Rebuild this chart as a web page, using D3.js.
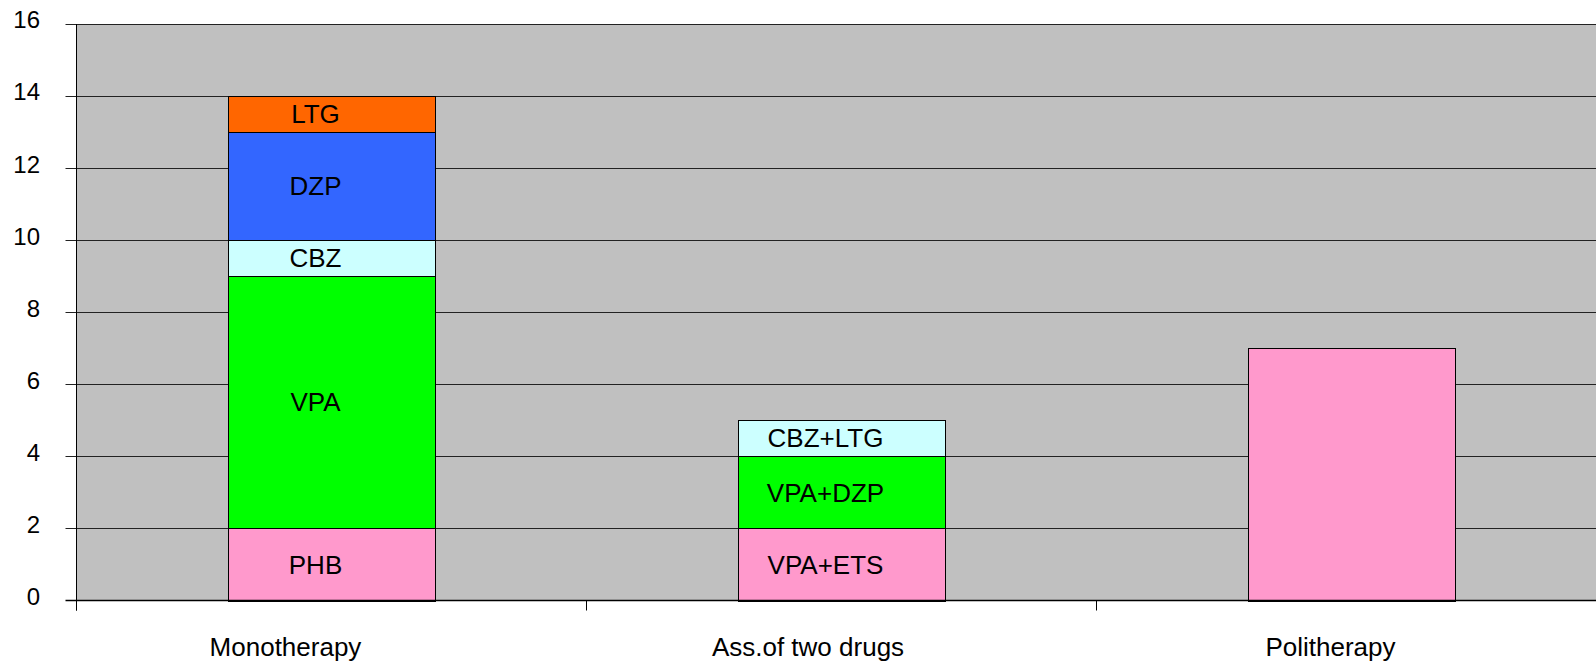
<!DOCTYPE html>
<html>
<head>
<meta charset="utf-8">
<script src="https://cdn.jsdelivr.net/npm/d3@7/dist/d3.min.js"></script>
<style>
  body { margin: 0; background: #fff; }
  svg { display: block; font-family: "Liberation Sans", Arial, sans-serif; }
</style>
</head>
<body>
<svg id="chart" width="1596" height="667"></svg>
<script>
// categories and stacked levels (bottom to top)
var categories = ["Monotherapy", "Ass.of two drugs", "Politherapy"];
var levelKeys = ["l1", "l2", "l3", "l4", "l5"];
var level1 = [2, 2, 7];
var level2 = [7, 2, 0];
var level3 = [1, 1, 0];
var level4 = [3, 0, 0];
var level5 = [1, 0, 0];
var labels1 = ["PHB", "VPA+ETS", ""];
var labels2 = ["VPA", "VPA+DZP", ""];
var labels3 = ["CBZ", "CBZ+LTG", ""];
var labels4 = ["DZP", "", ""];
var labels5 = ["LTG", "", ""];
var levelColors = ["#FF99CC", "#00FF00", "#CCFFFF", "#3366FF", "#FF6600"];
var yTicks = [0, 2, 4, 6, 8, 10, 12, 14, 16];

function drawChart() {
  var levels = [level1, level2, level3, level4, level5];
  var labels = [labels1, labels2, labels3, labels4, labels5];

  var rows = categories.map(function(c, i) {
    var r = {cat: c};
    levelKeys.forEach(function(k, j) { r[k] = levels[j][i]; });
    return r;
  });

  var svg = d3.select("#chart");
  var pLeft = 76.5, pTop = 24, pBottom = 600.5, pRight = 1606.5, W = 1596;

  var x = d3.scaleBand().domain(categories).range([pLeft, pRight])
    .paddingInner(0.594).paddingOuter(0.297);
  var y = d3.scaleLinear().domain([0, 16]).range([pBottom, pTop]);
  var step = x.step();
  var bw = x.bandwidth();

  // plot area
  svg.append("rect")
    .attr("x", pLeft).attr("y", pTop)
    .attr("width", W - pLeft).attr("height", pBottom - pTop)
    .attr("fill", "#C0C0C0");

  // gridlines
  svg.append("g").selectAll("line")
    .data(yTicks.filter(function(t){ return t > 0; }))
    .enter().append("line")
    .attr("x1", pLeft - 11).attr("x2", W)
    .attr("y1", function(d){ return Math.round(y(d)) + 0.5; })
    .attr("y2", function(d){ return Math.round(y(d)) + 0.5; })
    .attr("stroke", "#222").attr("stroke-width", 1);

  // y tick labels
  svg.append("g").selectAll("text")
    .data(yTicks)
    .enter().append("text")
    .attr("x", 40)
    .attr("y", function(d){ return y(d) - 4; })
    .attr("dy", "0.35em")
    .attr("text-anchor", "end")
    .attr("font-size", 24)
    .text(function(d){ return d; });

  // stacked bars
  var series = d3.stack().keys(levelKeys)(rows);

  var bars = svg.append("g");
  series.forEach(function(s, j) {
    bars.selectAll(null)
      .data(s.filter(function(d){ return d[1] > d[0]; }))
      .enter().append("rect")
      .attr("x", function(d){ return Math.round(x(d.data.cat)) + 0.5; })
      .attr("y", function(d){ return Math.round(y(d[1])) + 0.5; })
      .attr("width", Math.round(bw))
      .attr("height", function(d){ return Math.round(y(d[0])) - Math.round(y(d[1])); })
      .attr("fill", levelColors[j])
      .attr("stroke", "#000").attr("stroke-width", 1);
  });

  // segment labels
  series.forEach(function(s, j) {
    bars.selectAll(null)
      .data(s.map(function(d, i){ return {d: d, label: labels[j][i]}; })
        .filter(function(o){ return o.label !== ""; }))
      .enter().append("text")
      .attr("x", function(o){ return x(o.d.data.cat) + bw / 2 - 16; })
      .attr("y", function(o){ return (y(o.d[0]) + y(o.d[1])) / 2; })
      .attr("dy", "0.35em")
      .attr("text-anchor", "middle")
      .attr("font-size", 26)
      .text(function(o){ return o.label; });
  });

  // axis lines
  svg.append("line")
    .attr("x1", pLeft).attr("x2", pLeft)
    .attr("y1", pTop).attr("y2", pBottom + 10)
    .attr("stroke", "#000");
  svg.append("line")
    .attr("x1", pLeft - 11).attr("x2", W)
    .attr("y1", pBottom).attr("y2", pBottom)
    .attr("stroke", "#000").attr("stroke-width", 1.5);

  // category ticks between bands
  svg.append("g").selectAll("line")
    .data(categories)
    .enter().append("line")
    .attr("x1", function(d){ return Math.round(x(d) + bw / 2 - step / 2) + 0.5; })
    .attr("x2", function(d){ return Math.round(x(d) + bw / 2 - step / 2) + 0.5; })
    .attr("y1", pBottom).attr("y2", pBottom + 10)
    .attr("stroke", "#000");

  // category labels sit a little left of the bars, as in the original
  var first = categories[0], last = categories[categories.length - 1];
  var xl = d3.scalePoint().domain(categories)
    .range([x(first) + bw / 2 - 46, x(last) + bw / 2 - 21]);
  svg.append("g").selectAll("text")
    .data(categories)
    .enter().append("text")
    .attr("x", function(d){ return xl(d); })
    .attr("y", 656)
    .attr("text-anchor", "middle")
    .attr("font-size", 26)
    .text(function(d){ return d; });
}

drawChart();
</script>
</body>
</html>
